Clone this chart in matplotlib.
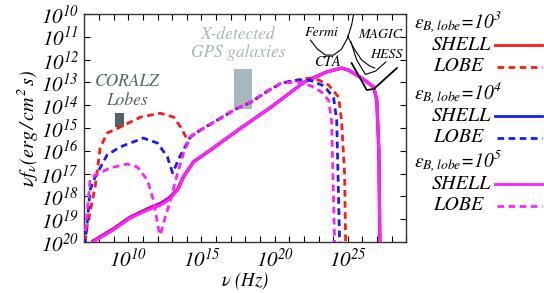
import matplotlib
matplotlib.use("Agg")
import matplotlib.pyplot as plt
import numpy as np
from matplotlib.ticker import FixedLocator, FuncFormatter, NullLocator
from matplotlib.lines import Line2D

plt.rcParams['mathtext.fontset'] = 'stix'
plt.rcParams['font.family'] = ['STIXGeneral', 'DejaVu Serif']
plt.rcParams['font.style'] = 'italic'

# ---- data: log10(nu [Hz]) and log10(nu f_nu) ----
lobe3_lx = [7.05, 7.19, 7.74, 8.08, 8.56, 9.45, 10.83, 12.2, 13.1, 13.58, 14.06,
            14.26, 14.61, 15.16, 16.33, 17.22, 18.39, 19.42, 20.45, 21.62, 22.31,
            23.0, 23.68, 24.37, 24.57, 24.78, 24.85]
lobe3_ly = [-20.0, -19.34, -17.59, -15.88, -15.22, -14.96, -14.52, -14.35, -14.52, -14.96, -15.53,
            -15.39, -15.22, -15.0, -14.56, -14.21, -13.86, -13.42, -13.03, -12.89, -12.81,
            -12.89, -13.11, -13.64, -14.65, -17.0, -20.0]

lobe4_lx = [7.05, 7.19, 7.39, 7.74, 8.56, 9.45, 11.03, 12.0, 12.68, 13.03, 13.58,
            14.26, 14.61, 15.16, 16.33, 17.22, 18.39, 19.42, 20.45, 21.62, 22.4,
            23.4, 24.03, 24.24, 24.44]
lobe4_ly = [-20.0, -19.25, -17.72, -17.15, -16.18, -15.83, -15.44, -15.66, -16.27, -16.97, -16.18,
            -15.39, -15.22, -15.0, -14.56, -14.21, -13.86, -13.42, -13.03, -12.89, -12.9,
            -13.16, -13.68, -14.65, -20.0]

lobe5_lx = [7.05, 7.39, 7.74, 8.77, 9.93, 10.62, 11.31, 11.72, 12.06, 12.2, 12.41,
            12.89, 13.37, 13.78, 14.26, 14.61, 15.16, 16.33, 17.22, 18.39, 19.42,
            20.45, 21.62, 22.51, 23.2, 23.68, 23.89, 24.1]
lobe5_ly = [-19.69, -17.28, -17.06, -16.75, -16.58, -16.71, -17.28, -18.16, -19.39, -19.69, -19.17,
            -18.16, -16.97, -16.1, -15.39, -15.22, -15.0, -14.56, -14.21, -13.86, -13.42,
            -13.03, -12.98, -13.16, -13.42, -13.77, -14.65, -20.0]

shell_lx = [7.6, 8.97, 10.14, 11.31, 12.2, 12.75, 13.37, 13.78, 14.47, 14.95, 15.64,
            17.5, 19.76, 22.03, 23.54, 24.57, 25.05, 25.95, 26.77, 26.98, 27.12, 27.19]
shell3_ly = [-19.95, -19.42, -18.9, -18.54, -18.3, -18.08, -17.68, -17.12, -16.47, -16.26, -15.95,
             -15.09, -14.08, -12.98, -12.54, -12.37, -12.46, -12.81, -13.2, -13.77, -15.96, -20.0]
shell4_ly = [-19.98, -19.45, -18.93, -18.57, -18.34, -18.12, -17.7, -17.14, -16.48, -16.27, -15.96,
             -15.09, -14.08, -12.98, -12.54, -12.37, -12.46, -12.81, -13.2, -13.77, -15.96, -20.0]
shell5_ly = [-20.0, -19.47, -18.95, -18.6, -18.38, -18.16, -17.72, -17.15, -16.49, -16.27, -15.96,
             -15.09, -14.08, -12.98, -12.54, -12.37, -12.46, -12.81, -13.2, -13.77, -15.96, -20.0]

fermi_lx = [22.44, 22.93, 23.48, 24.02, 24.57, 24.98, 25.26, 25.40]
fermi_ly = [-11.14, -11.54, -11.80, -11.80, -11.54, -11.05, -10.48, -10.0]
magic_lx = [24.98, 25.40, 25.95, 26.5, 26.84]
magic_ly = [-10.96, -11.49, -12.02, -12.28, -12.37]
hess_lx = [25.2, 25.6, 26.2, 26.9, 27.6]
hess_ly = [-11.2, -12.0, -12.65, -12.5, -12.1]
cta_lx = [25.26, 26.29, 26.77, 28.35]
cta_ly = [-12.15, -13.33, -13.29, -12.37]

coralz_lx = [9.12, 9.74]
coralz_ly = [-14.96, -14.35]
gps_lx = [17.21, 18.45]
gps_ly = [-14.17, -12.41]

xtick_exp = list(range(8, 30))
xlabel_exp = [10, 15, 20, 25]
ytick_exp = list(range(-20, -9))

RED = '#ff1a1a'
BLUE = '#1a1aff'
MAG = '#ff22ff'

fig = plt.figure(figsize=(5.44, 2.93), dpi=100)
ax = fig.add_axes([0.155, 0.174, 0.592, 0.778])
ax.set_xscale('log')
ax.set_yscale('log')
ax.set_xlim(1e7, 1e29)
ax.set_ylim(1e-20, 1e-10)

p = lambda a: 10.0 ** np.array(a)

# boxes
ax.fill_between(p(coralz_lx), p(coralz_ly)[0], p(coralz_ly)[1], color='#546464', lw=0, zorder=1)
ax.fill_between(p(gps_lx), p(gps_ly)[0], p(gps_ly)[1], color='#a6b7bd', lw=0, zorder=1)

DASH = (2.4, 1.6)
# shells
ax.plot(p(shell_lx), p(shell3_ly), color=RED, lw=2.3, zorder=3)
ax.plot(p(shell_lx), p(shell4_ly), color=BLUE, lw=2.0, zorder=3)
ax.plot(p(shell_lx), p(shell5_ly), color=MAG, lw=2.3, zorder=4)

# lobes
ax.plot(p(lobe3_lx), p(lobe3_ly), color=RED, lw=2.0, ls=(0, DASH), zorder=5)
ax.plot(p(lobe4_lx), p(lobe4_ly), color=BLUE, lw=2.0, ls=(1.3, DASH), zorder=5)
ax.plot(p(lobe5_lx), p(lobe5_ly), color=MAG, lw=2.0, ls=(2.6, DASH), zorder=5)

# instruments
ax.plot(p(fermi_lx), p(fermi_ly), color='k', lw=0.8, zorder=6)
ax.plot(p(magic_lx), p(magic_ly), color='k', lw=0.8, zorder=6)
ax.plot(p(hess_lx), p(hess_ly), color='k', lw=0.8, zorder=6)
ax.plot(p(cta_lx), p(cta_ly), color='k', lw=1.3, zorder=6)

# annotations
ax.text(p(9.9), p(-12.95), 'CORALZ', color='#546464', fontsize=12.5, ha='center', va='center')
ax.text(p(9.9), p(-13.8), 'Lobes', color='#546464', fontsize=12.5, ha='center', va='center')
ax.text(p(17.5), p(-10.92), 'X-detected', color='#a6b7bd', fontsize=12.5, ha='center', va='center')
ax.text(p(17.5), p(-11.7), 'GPS galaxies', color='#a6b7bd', fontsize=12.5, ha='center', va='center')
ax.text(p(23.2), p(-10.83), 'Fermi', color='k', fontsize=10, ha='center', va='center')
ax.text(p(23.6), p(-12.1), 'CTA', color='k', fontsize=10.5, ha='center', va='center')
ax.text(p(27.2), p(-10.92), 'MAGIC', color='k', fontsize=10, ha='center', va='center')
ax.text(p(27.6), p(-11.8), 'HESS', color='k', fontsize=10, ha='center', va='center')

# ticks
ax.xaxis.set_major_locator(FixedLocator([10.0 ** e for e in xtick_exp]))
ax.xaxis.set_minor_locator(NullLocator())
ax.xaxis.set_major_formatter(FuncFormatter(
    lambda v, pos: r'$\mathit{10}^{\mathit{%d}}$' % round(np.log10(v))
    if round(np.log10(v)) in xlabel_exp else ''))
ax.yaxis.set_major_locator(FixedLocator([10.0 ** e for e in ytick_exp]))
ax.yaxis.set_minor_locator(NullLocator())
ax.yaxis.set_major_formatter(FuncFormatter(
    lambda v, pos: r'$\mathit{10}^{\mathit{%d}}$' % (-round(np.log10(v)))))
ax.tick_params(which='both', direction='in', top=True, right=True, length=4, width=0.8,
               labelsize=15, pad=4)
for s in ax.spines.values():
    s.set_linewidth(1.0)
    s.set_color('#333333')

ax.set_xlabel(r'$\nu\ (Hz)$', fontsize=13.5, labelpad=0)
ax.set_ylabel(r'$\nu f_{\nu}(erg\,/\,cm^{2}\,s)$', fontsize=14.5, labelpad=0)

# legend (manual layout)
W, H = 544.0, 293.0
def fx(x):
    return x / W
def fy(y):
    return 1 - y / H

heads = [r'$\varepsilon_{B,lobe}$=10$^{3}$', r'$\varepsilon_{B,lobe}$=10$^{4}$', r'$\varepsilon_{B,lobe}$=10$^{5}$']
cols = [RED, BLUE, MAG]
head_y = [22, 93, 161]
for h, c, hy in zip(heads, cols, head_y):
    fig.text(fx(414), fy(hy), h, fontsize=14, ha='left', va='center')
    fig.text(fx(432), fy(hy + 23), 'SHELL', fontsize=14.5, ha='left', va='center')
    fig.text(fx(433), fy(hy + 44), 'LOBE', fontsize=14.5, ha='left', va='center')
    fig.add_artist(Line2D([fx(495), fx(542)], [fy(hy + 23), fy(hy + 23)], color=c, lw=2.0,
                          transform=fig.transFigure))
    fig.add_artist(Line2D([fx(497), fx(542)], [fy(hy + 45), fy(hy + 45)], color=c, lw=2.0,
                          ls=(0, DASH), transform=fig.transFigure))

fig.savefig('out.png', dpi=100)
